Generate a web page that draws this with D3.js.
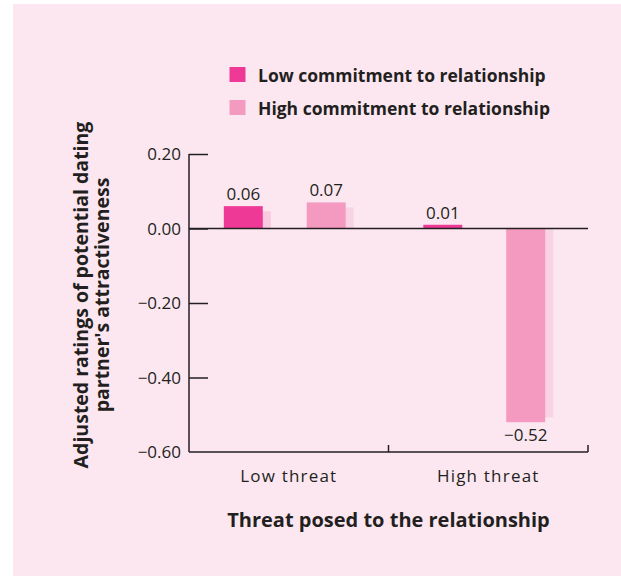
<!DOCTYPE html>
<html>
<head>
<meta charset="utf-8">
<script src="https://cdn.jsdelivr.net/npm/d3@7"></script>
<style>
  html, body { margin: 0; padding: 0; background: #ffffff; }
  svg { display: block; }
  text { font-family: "Open Sans", "Noto Sans", sans-serif; fill: #231f20; }
</style>
</head>
<body>
<svg id="chart" width="621" height="576"></svg>
<script>
// ---- data ----
const categories = ["Low threat", "High threat"];
const seriesNames = ["Low commitment to relationship", "High commitment to relationship"];
const lowCommitment = [0.06, 0.01];
const highCommitment = [0.07, -0.52];
const yTicks = [0.20, 0.00, -0.20, -0.40, -0.60];
const yTitleLines = ["Adjusted ratings of potential dating", "partner's attractiveness"];
const xTitle = "Threat posed to the relationship";

const colors = ["#ee3a96", "#f49ac1"];
const shadowColors = ["#f8c9df", "#f9d2e4"];
const ink = "#231f20";

const svg = d3.select("#chart");
svg.append("rect").attr("x", 13).attr("y", 4).attr("width", 608).attr("height", 572).attr("fill", "#fce7f1");

const x0 = 189, x1 = 588;
const y = d3.scaleLinear().domain([-0.6, 0.2]).range([452, 154]);
const xg = d3.scaleBand().domain(categories).range([x0, x1]).padding(0);
const xs = d3.scaleBand().domain(seriesNames).range([0, xg.bandwidth() - 8]).paddingInner(0.53).paddingOuter(0.42);

const fmt = v => (v < 0 ? "\u2212" : "") + d3.format(".2f")(Math.abs(v));

const data = [];
categories.forEach((c, i) => {
  data.push({cat: c, s: seriesNames[0], v: lowCommitment[i], k: 0});
  data.push({cat: c, s: seriesNames[1], v: highCommitment[i], k: 1});
});

const shadowOff = 8, shadowDrop = 5;
const g = svg.append("g");
// shadows
data.forEach(d => {
  const bx = xg(d.cat) + xs(d.s);
  const y0 = y(0), yv = y(d.v);
  const h = Math.abs(yv - y0) - shadowDrop;
  if (h > 0) {
    g.append("rect")
      .attr("x", bx + shadowOff)
      .attr("y", d.v >= 0 ? yv + shadowDrop : y0)
      .attr("width", xs.bandwidth())
      .attr("height", h)
      .attr("fill", shadowColors[d.k]);
  }
});
// bars
data.forEach(d => {
  const bx = xg(d.cat) + xs(d.s);
  g.append("rect")
    .attr("x", bx)
    .attr("y", Math.min(y(d.v), y(0)))
    .attr("width", xs.bandwidth())
    .attr("height", Math.abs(y(d.v) - y(0)))
    .attr("fill", colors[d.k]);
  g.append("text")
    .attr("x", bx + xs.bandwidth() / 2)
    .attr("y", d.v >= 0 ? y(d.v) - 6 : y(d.v) + 19)
    .attr("text-anchor", "middle")
    .attr("font-size", 17)
    .text(fmt(d.v));
});

// y axis
const yAxis = d3.axisRight(y).tickValues(yTicks.slice(0, -1)).tickSize(19).tickFormat("");
const ya = svg.append("g").attr("transform", `translate(${x0},0)`).call(yAxis);
ya.select(".domain").remove();
ya.selectAll("line").attr("stroke", ink).attr("stroke-width", 1.5);
svg.append("line").attr("x1", x0).attr("x2", x0).attr("y1", y(0.2)).attr("y2", y(-0.6))
  .attr("stroke", ink).attr("stroke-width", 1.5);
// zero line
svg.append("line").attr("x1", x0).attr("x2", x1).attr("y1", y(0)).attr("y2", y(0))
  .attr("stroke", ink).attr("stroke-width", 1.5);
// tick labels
yTicks.forEach(t => {
  svg.append("text").attr("x", x0 - 8).attr("y", y(t) + 6)
    .attr("text-anchor", "end").attr("font-size", 17).text(fmt(t));
});

// x axis
svg.append("line").attr("x1", x0).attr("x2", x1).attr("y1", y(-0.6)).attr("y2", y(-0.6))
  .attr("stroke", ink).attr("stroke-width", 1.5);
[xg(categories[1]), x1].forEach(px => {
  svg.append("line").attr("x1", px).attr("x2", px).attr("y1", y(-0.6)).attr("y2", y(-0.6) - 7)
    .attr("stroke", ink).attr("stroke-width", 1.5);
});
categories.forEach(c => {
  svg.append("text").attr("x", xg(c) + xg.bandwidth() / 2).attr("y", 482)
    .attr("text-anchor", "middle").attr("font-size", 17).attr("letter-spacing", 1.2).text(c);
});
svg.append("text").attr("x", (x0 + x1) / 2).attr("y", 527).attr("text-anchor", "middle")
  .attr("font-size", 20).attr("font-weight", "bold").text(xTitle);

// y title
const yt = svg.append("text").attr("transform", "translate(88,295) rotate(-90)")
  .attr("text-anchor", "middle").attr("font-size", 19.5).attr("font-weight", "bold");
yTitleLines.forEach((l, i) => {
  yt.append("tspan").attr("x", 0).attr("y", i * 21).text(l);
});

// legend
seriesNames.forEach((s, i) => {
  const ly = 67 + i * 33;
  svg.append("rect").attr("x", 229.5).attr("y", ly).attr("width", 16).attr("height", 15).attr("fill", colors[i]);
  svg.append("text").attr("x", 258).attr("y", ly + 14.5).attr("font-size", 17.5).attr("font-weight", "bold").text(s);
});
</script>
</body>
</html>
